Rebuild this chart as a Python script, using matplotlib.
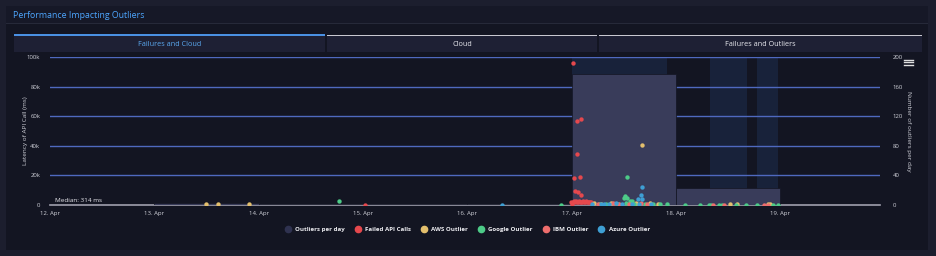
import matplotlib.pyplot as plt
from matplotlib.patches import Rectangle
from matplotlib.lines import Line2D

plt.rcParams['font.family'] = ['Open Sans', 'DejaVu Sans']

W, H = 936, 256

# x values are days after 12 Apr 00:00
day_labels = ["12. Apr", "13. Apr", "14. Apr", "15. Apr", "16. Apr", "17. Apr", "18. Apr", "19. Apr"]

# Outliers per day (right axis), one column per day starting 12 Apr
count_days = [0, 1, 2, 3, 4, 5, 6]
count_values = [0, 3, 1, 1, 1, 177, 23]

# Highlighted periods
band_start = [5.0, 6.33, 6.78]
band_end = [5.92, 6.68, 6.98]

median_ms = 314

failed_x = [3.02, 5.017, 5.056, 5.088, 5.050, 5.024, 5.079, 5.034, 5.065, 5.088, 5.003,
            4.998, 5.01, 5.02, 5.03, 5.04, 5.05, 5.06, 5.07, 5.08, 5.09, 5.10, 5.11,
            5.12, 5.13, 5.14, 5.15, 5.16, 5.17, 5.18, 5.19]
failed_y = [300, 95700, 56800, 57900, 34300, 18000, 18700, 9700, 9000, 7000, 500,
            2200, 1800, 2600, 2000, 2400, 1700, 2100, 2500, 1900, 2300, 2000, 2400,
            1800, 2200, 2600, 2000, 2300, 1900, 2100, 1700]

aws_x = [1.50, 1.61, 1.91, 5.68, 5.22, 5.28, 5.38, 5.62, 5.75, 5.83, 6.52, 6.59, 6.88, 6.90]
aws_y = [500, 900, 700, 40500, 1200, 900, 1500, 1400, 1100, 900, 600, 700, 600, 1000]

google_x = [2.77, 4.90, 5.53, 5.51, 5.535, 5.50, 5.56, 5.58, 5.26, 5.33, 5.45, 5.52,
            5.60, 5.70, 5.78, 5.85, 5.92, 6.09, 6.23, 6.32, 6.34, 6.41, 6.44, 6.58,
            6.67, 6.78, 6.93, 6.98]
google_y = [2500, 300, 19100, 6300, 4900, 4500, 2700, 2900, 600, 800, 700, 1100,
            900, 600, 800, 500, 700, 300, 300, 300, 300, 300, 300, 300,
            300, 300, 300, 300]

ibm_x = [5.25, 5.40, 5.55, 5.67, 5.72, 5.46, 6.36, 6.46, 6.85, 6.88]
ibm_y = [900, 1100, 800, 1200, 1000, 700, 300, 300, 300, 300]

azure_x = [4.33, 5.68, 5.67, 5.64, 5.68, 5.20, 5.28, 5.31, 5.36, 5.43, 5.48, 5.58,
           5.65, 5.76]
azure_y = [300, 12000, 6800, 3800, 3800, 800, 1000, 700, 900, 1100, 800, 1000,
           700, 900]

C_BG = "#1c1e2e"
C_CARD = "#131522"
C_COUNT = "#393c5a"
C_FAILED = "#e5484d"
C_AWS = "#e3bf6d"
C_GOOGLE = "#4dcb88"
C_IBM = "#ee6d6d"
C_AZURE = "#3e9fd4"
C_TICK = "#cfd0d8"


def fx(x):
    return x / W


def fy(y):
    return 1 - y / H


def rect(x0, y0, x1, y1, color):
    fig.patches.append(Rectangle((fx(x0), fy(y1)), fx(x1 - x0), (y1 - y0) / H,
                                 transform=fig.transFigure, facecolor=color,
                                 lw=0, zorder=-10))


fig = plt.figure(figsize=(W / 100, H / 100), dpi=100)
fig.patch.set_facecolor(C_BG)

# Card, title bar and tabs
rect(6, 6, 928, 250, C_CARD)
rect(6, 6, 928, 23, "#161827")
rect(6, 23, 928, 24, "#262939")
fig.text(fx(13), fy(15), "Performance Impacting Outliers", color="#4da6ff",
         fontsize=6.3, va="center", ha="left")

tabs = ["Failures and Cloud", "Cloud", "Failures and Outliers"]
tab_x = [(14, 325), (327, 597), (599, 922)]
for i, (name, (a, b)) in enumerate(zip(tabs, tab_x)):
    rect(a, 36, b, 52, "#1e2034")
    if i == 0:
        rect(a, 34, b, 36, "#4a90e2")
        col = "#5aa8f0"
    else:
        rect(a, 35, b, 36, "#c8c8d0")
        col = "#e8e8ee"
    fig.text(fx((a + b) / 2), fy(45), name, color=col, fontsize=5.2,
             ha="center", va="center")

# Hamburger icon
for yy in (59.5, 62, 64.5):
    fig.lines.append(Line2D([fx(904), fx(913)], [fy(yy), fy(yy)],
                            transform=fig.transFigure, color="#e0e0e0", lw=1))

rect_ax = [fx(50), fy(205), fx(830), 148 / H]

# Base axes: bands, grid, median
ax = fig.add_axes(rect_ax)
ax.set_facecolor(C_CARD)
ax.set_xlim(0, 830 / 104.3)
ax.set_ylim(0, 100000)
for s, e in zip(band_start, band_end):
    ax.axvspan(s, e, color="#18223a", lw=0, zorder=0)
for v in range(20000, 100001, 20000):
    ax.axhline(v, color="#4f69bf", lw=1.0, zorder=1)
ax.axhline(median_ms, color="#a0a0ae", lw=1.2, zorder=1, clip_on=False)
ax.text(0.05, median_ms + 900, "Median: 314 ms", color="#e8e8ee", fontsize=4.6,
        va="bottom", ha="left")
ax.set_yticks(range(0, 100001, 20000))
ax.set_yticklabels(["0", "20k", "40k", "60k", "80k", "100k"])
ax.set_xticks(range(8))
ax.set_xticklabels(day_labels)
ax.tick_params(axis="both", length=0, colors=C_TICK, labelsize=4.3)
ax.tick_params(axis="x", pad=4)
ax.tick_params(axis="y", pad=7)
ax.set_ylabel("Latency of API Call (ms)", color=C_TICK, fontsize=4.6, labelpad=-0.5)
for sp in ax.spines.values():
    sp.set_visible(False)

# Columns on the right axis
ax2 = ax.twinx()
ax2.set_ylim(0, 200)
ax2.bar(count_days, count_values, width=1, align="edge", color=C_COUNT,
        edgecolor=C_CARD, linewidth=0.5)
ax2.set_yticks(range(0, 201, 40))
ax2.tick_params(axis="y", length=0, colors=C_TICK, labelsize=4.3, pad=9)
ax2.set_ylabel("Number of outliers per day", color=C_TICK, fontsize=4.6,
               rotation=270, labelpad=6)
for sp in ax2.spines.values():
    sp.set_visible(False)

# Scatter points on top
ax3 = fig.add_axes(rect_ax, sharex=ax, sharey=ax)
ax3.patch.set_visible(False)
ax3.axis("off")
kw = dict(s=10, linewidths=0, zorder=3)
ax3.scatter(failed_x, failed_y, color=C_FAILED, **kw)
ax3.scatter(aws_x, aws_y, color=C_AWS, **kw)
ax3.scatter(google_x, google_y, color=C_GOOGLE, **kw)
ax3.scatter(ibm_x, ibm_y, color=C_IBM, **kw)
ax3.scatter(azure_x, azure_y, color=C_AZURE, **kw)

# Legend
names = ["Outliers per day", "Failed API Calls", "AWS Outlier", "Google Outlier",
         "IBM Outlier", "Azure Outlier"]
cols = ["#2f3250", C_FAILED, C_AWS, C_GOOGLE, C_IBM, C_AZURE]
handles = [Line2D([], [], marker="o", ls="", color=c, markersize=4.5) for c in cols]
leg = fig.legend(handles, names, loc="center", bbox_to_anchor=(fx(466), fy(229)),
                 ncol=6, frameon=False, handletextpad=0.2,
                 columnspacing=1.1, prop={"weight": "bold", "size": 4.4})
for t in leg.get_texts():
    t.set_color("#eeeef2")

fig.savefig("out.png", dpi=100, facecolor=fig.get_facecolor())
